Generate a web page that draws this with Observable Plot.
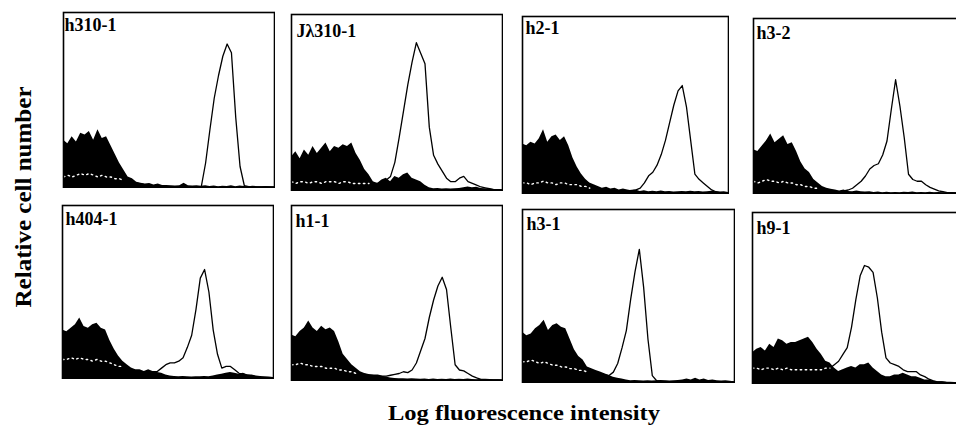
<!DOCTYPE html>
<html><head><meta charset="utf-8">
<script src="https://cdn.jsdelivr.net/npm/d3@7"></script>
<script src="https://cdn.jsdelivr.net/npm/@observablehq/plot@0.6"></script>
<style>
html,body{margin:0;padding:0;background:#fff;}
#fig{position:relative;width:956px;height:430px;overflow:hidden;background:#fff;}
#fig svg{position:absolute;}
</style></head><body><div id="fig"></div>
<script>
// Panel names (antibody / clone)
const labels = ["h310-1","Jλ310-1","h2-1","h3-2","h404-1","h1-1","h3-1","h9-1"];
const xTitle = "Log fluorescence intensity";
const yTitle = "Relative cell number";

// Fluorescence channel bins (log scale, 50 bins)
const channel = [0,1,2,3,4,5,6,7,8,9,10,11,12,13,14,15,16,17,18,19,20,21,22,23,24,25,26,27,28,29,30,31,32,33,34,35,36,37,38,39,40,41,42,43,44,45,46,47,48,49];

// Control (filled) histograms, relative counts
const ctrl1 = [27,25,29,26,31,30,32,27,33,28, 29,24,19,14,10,6,5,3,2.5,2, 2.3,1.5,2,1.2,1.2,1,0.8,1,2.5,1, 0.8,1,0.7,1,0.6,0.8,0.5,0.7,0.6,1, 0.5,0.8,0.6,0.5,0.7,0.5,0.4,0.6,0.4,0.3];
const ctrl2 = [19,22,18,23,20,25,21,24,27,22, 25,24,26,25,27,21,17,12,9,5, 4,6,7,5,8,7,9,10,7,6, 5,3,1.5,1,1.2,0.8,1,0.8,1,1.2, 1.5,2,1.5,1.8,1.2,1,0.8,0.6,0.5,0.4];
const ctrl3 = [28,27,29,28,31,36,29,32,33,30, 32,27,20,15,11,8,6,5,4,3, 3.5,2.5,3,2,2.5,2,1.5,2,1.2,1.5, 1,1.3,1,1.4,1,1.2,0.8,1,1.2,1, 1.3,1,1.2,0.8,1,1.3,1,0.8,1,0.6];
const ctrl4 = [25,24,27,30,34,29,31,33,28,29, 24,18,14,12,8,6,4,3,2.5,2, 1.5,2,1.2,1,1.5,1,0.8,1,0.6,0.8, 0.5,0.7,0.5,0.6,0.5,0.7,0.6,0.8,0.5,0.6, 0.5,0.7,0.5,0.6,0.4,0.5,0.4,0.4,0.3,0.3];
const ctrl5 = [28,27,29,31,35,30,29,31,32,29, 28,22,17,13,10,8,6,5,5,4, 5,4,3.5,3,2,1.5,1.2,1,1.2,1, 0.8,1,1,1.2,1,1.5,2,2.5,3,3.5, 3,2.5,3,2,2,1.5,1.2,1,0.8,0.6];
const ctrl6 = [26,25,28,30,34,30,28,31,29,30, 28,22,15,12,9,7,5,4,3.5,3, 2.5,2.5,2,1.5,1.2,1,1,0.8,1,0.8, 0.7,0.8,0.6,0.8,0.6,0.7,0.6,0.8,0.6,0.7, 0.6,0.8,0.6,0.5,0.6,0.5,0.4,0.5,0.4,0.3];
const ctrl7 = [29,27,28,31,33,36,30,33,34,32, 31,25,19,15,13,9,8,7,6,5, 4,3,2.5,2,1.5,1,1.2,1,0.8,1, 0.8,1,1.2,1,0.8,1,1.2,1.5,2,1.5, 2.5,1.5,2,1.2,1.5,1,0.8,1,0.7,0.5];
const ctrl8 = [18,20,21,19,23,21,26,25,23,24, 24,25,26,27,24,20,17,13,12,9, 7,8,9,10,9,11,11,12,9,7, 5,4,4,5,5,6,5,4,4,3, 2,2,1.5,1,1,0.8,0.8,0.6,0.5,0.4];

// Stained (open) histograms, relative counts
const stain1 = [6,7,6,7,8,7,8,7,6,7, 6,6,5,5,4,4,3,2.5,2,1.5, 1,1,0.8,0.6,0.5,0.5,0.4,0.4,0.4,0.4, 0.4,0.5,0.5,14,33,51,64,75,82,77, 40,12,1,0.5,0.5,0.4,0.3,0.3,0.3,0.3];
const stain2 = [5,4,5,5,4,5,5,4,5,5, 5,4,5,5,4,4,4,4,4,4, 4,5,6,8,16,30,45,60,73,84, 78,72,36,20,15,11,7,5,5,7, 8,5,4,3,2,1.5,1,0.5,0.5,0.4];
const stain3 = [6,6,5,6,6,7,6,6,5,6, 6,5,5,5,4,4,3,3,2.5,2, 2,1.5,1.5,1.5,1.5,1.5,1.8,2,3,6, 10,12,16,22,30,40,50,58,61,49, 30,11,8,6,4,2,1,0.5,0.5,0.4];
const stain4 = [7,6,7,8,7,7,6,7,6,6, 5,5,4,4,3,3,2.5,2,1.5,1.2, 1,1.5,2,3,5,7,10,14,16,17, 22,30,48,65,50,32,11,8,7,7, 5,3.5,2.5,1.5,1,0.5,0.5,0.4,0.3,0.3];
const stain5 = [11,11,12,11,12,11,11,10,11,10, 10,9,8,7,7,6,5,4.5,4,4, 4,4,4,6,8,9,9,10,12,18, 25,40,58,63,50,28,14,6,7,7, 5,3,2.5,2,1.5,1,0.5,0.5,0.4,0.4];
const stain6 = [9,9,10,9,9,8,8,8,7,7, 7,6,6,5,5,4,4,3.5,3,3, 3,2.5,2.5,3,3.5,4,5,4.5,6,10, 17,24,36,46,54,59,52,30,9,6, 5.5,4,2.5,1.5,0.7,0.6,0.5,0.4,0.4,0.3];
const stain7 = [12,12,13,12,11,12,11,10,10,9, 9,8,8,7,7,6,6,5,5,4.5, 4,6,11,20,30,48,64,77,55,25, 4,1,0.7,0.6,0.5,0.5,0.5,0.4,0.4,0.4, 0.4,0.4,0.4,0.3,0.3,0.3,0.3,0.3,0.3,0.3];
const stain8 = [9,9,8,9,9,8,9,8,9,8, 8,8,8,8,8,8,8,9,9,11, 13,17,21,33,49,63,69,68,65,50, 30,15,12,11,10,8,7,7,7,5, 4,2.5,1.5,1,1,0.7,0.5,0.5,0.4,0.4];

const ctrls = [ctrl1,ctrl2,ctrl3,ctrl4,ctrl5,ctrl6,ctrl7,ctrl8];
const stains = [stain1,stain2,stain3,stain4,stain5,stain6,stain7,stain8];

// Layout of the panels (pixels), kept apart from the data
const layout = [
  {left:63, top:12, w:211, h:175, dx:1, dy:6},
  {left:291, top:14, w:211, h:176, dx:5, dy:10},
  {left:522, top:16, w:206, h:177, dx:3, dy:5},
  {left:753, top:18, w:211, h:175, dx:3, dy:8},
  {left:62, top:205, w:211, h:173, dx:3, dy:7},
  {left:291, top:205, w:211, h:175, dx:4, dy:9},
  {left:522, top:209, w:212, h:173, dx:4, dy:8},
  {left:752, top:212, w:211, h:171, dx:4, dy:9}
];

const fig = document.getElementById("fig");

// axis titles
const ov = d3.create("svg").attr("width", 956).attr("height", 430)
  .style("left", "0px").style("top", "0px");
ov.append("text").text(xTitle)
  .attr("x", 524).attr("y", 420).attr("text-anchor", "middle")
  .attr("font-family", "Liberation Serif, Times New Roman, serif").attr("font-weight", "bold")
  .attr("font-size", 20).attr("textLength", 272).attr("lengthAdjust", "spacingAndGlyphs");
ov.append("text").text(yTitle)
  .attr("transform", "translate(31,197) rotate(-90)").attr("text-anchor", "middle")
  .attr("font-family", "Liberation Serif, Times New Roman, serif").attr("font-weight", "bold")
  .attr("font-size", 24).attr("textLength", 221).attr("lengthAdjust", "spacingAndGlyphs");
fig.appendChild(ov.node());

function panel(i) {
  const L = layout[i];
  const rows = channel.map((c, k) => ({c, ctrl: ctrls[i][k], stain: stains[i][k]}));
  const under = rows.map(r => ({c: r.c, v: (r.ctrl - r.stain > 2.5) ? r.stain : NaN}));
  const svg = Plot.plot({
    width: L.w + 2, height: L.h + 2,
    margin: 1,
    x: {domain: [0, 49], axis: null},
    y: {domain: [0, 100], axis: null},
    style: {background: "white"},
    marks: [
      Plot.areaY(rows, {x: "c", y: "ctrl", fill: "black"}),
      Plot.lineY(rows, {x: "c", y: "stain", stroke: "black", strokeWidth: 1.3}),
      Plot.lineY(under, {x: "c", y: "v", stroke: "white", strokeWidth: 1.4, strokeDasharray: "1.5,3.5"}),
      Plot.frame({stroke: "black", strokeWidth: 1.6}),
      Plot.text([labels[i]], {text: d => d, frameAnchor: "top-left", textAnchor: "start", lineAnchor: "top",
        dx: L.dx, dy: L.dy, fontSize: 18, fontWeight: "bold",
        fontFamily: "Liberation Serif, Times New Roman, serif", fill: "black"})
    ]
  });
  svg.style.left = (L.left - 1) + "px";
  svg.style.top = (L.top - 1) + "px";
  fig.appendChild(svg);
}
for (let i = 0; i < 8; i++) panel(i);
</script>
</body></html>
